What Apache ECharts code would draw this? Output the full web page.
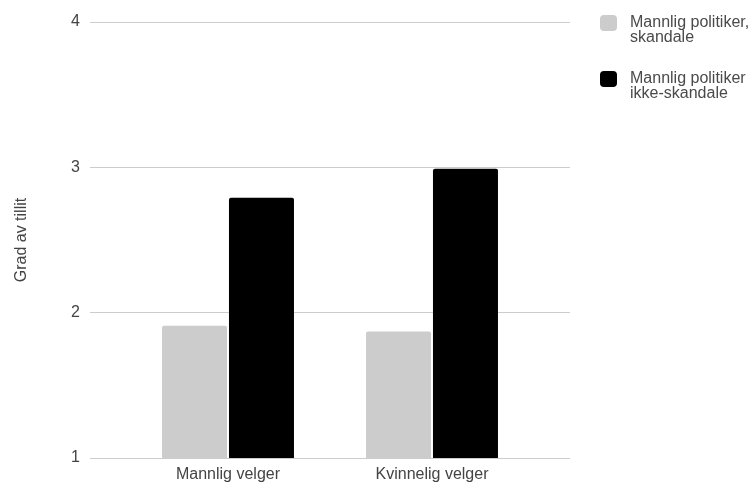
<!DOCTYPE html>
<html>
<head>
<meta charset="utf-8">
<script src="https://cdn.jsdelivr.net/npm/echarts@6/dist/echarts.min.js"></script>
<style>html,body{margin:0;padding:0;background:#fff}#c{width:755px;height:489px}</style>
</head>
<body>
<div id="c"></div>
<script>
const categories = ['Mannlig velger', 'Kvinnelig velger'];
const seriesNames = ['Mannlig politiker,\nskandale', 'Mannlig politiker\nikke-skandale'];
const scandal = [1.91, 1.87];
const noScandal = [2.79, 2.99];
const yTicks = [1, 2, 3, 4];
const yTitle = 'Grad av tillit';

const font = 'Liberation Sans, Arial, sans-serif';
const chart = echarts.init(document.getElementById('c'), null, {renderer: 'canvas'});
chart.setOption({
  animation: false,
  textStyle: {fontFamily: font},
  grid: [
    {left: 90, right: 185, top: 22, bottom: 31},
    {left: 126, right: 221, top: 22, bottom: 31}
  ],
  legend: {
    orient: 'vertical',
    left: 600,
    top: 0,
    padding: 0,
    itemWidth: 17,
    itemHeight: 16,
    itemGap: 10,
    icon: 'roundRect',
    formatter: function (name) { return '\n' + name; },
    textStyle: {fontFamily: font, fontSize: 16, color: '#4a4a4a', lineHeight: 15, padding: [0, 0, 0, 8]},
    data: seriesNames
  },
  xAxis: [
    {gridIndex: 0, type: 'value', show: false, min: 0, max: 1},
    {gridIndex: 1, type: 'category', data: categories,
     axisLine: {show: false}, axisTick: {show: false},
     axisLabel: {fontFamily: font, fontSize: 16, color: '#444', margin: 9}}
  ],
  yAxis: [
    {gridIndex: 0, type: 'value', min: yTicks[0], max: yTicks[yTicks.length - 1], interval: 1,
     name: yTitle, nameLocation: 'middle', nameGap: 60, nameRotate: 90,
     nameTextStyle: {fontFamily: font, fontSize: 16, color: '#444'},
     axisLine: {show: false}, axisTick: {show: false},
     axisLabel: {fontFamily: font, fontSize: 16, color: '#444', margin: 10},
     splitLine: {show: true, lineStyle: {color: '#cccccc', width: 1}}},
    {gridIndex: 1, type: 'value', min: yTicks[0], max: yTicks[yTicks.length - 1], show: false, splitLine: {show: false}}
  ],
  series: [
    {name: seriesNames[0], type: 'bar', xAxisIndex: 1, yAxisIndex: 1, data: scandal,
     barWidth: 65, barGap: '3%', itemStyle: {color: '#cccccc', borderRadius: [2, 2, 0, 0]}},
    {name: seriesNames[1], type: 'bar', xAxisIndex: 1, yAxisIndex: 1, data: noScandal,
     barWidth: 65, barGap: '3%', itemStyle: {color: '#000000', borderRadius: [2, 2, 0, 0]}}
  ]
});
</script>
</body>
</html>
